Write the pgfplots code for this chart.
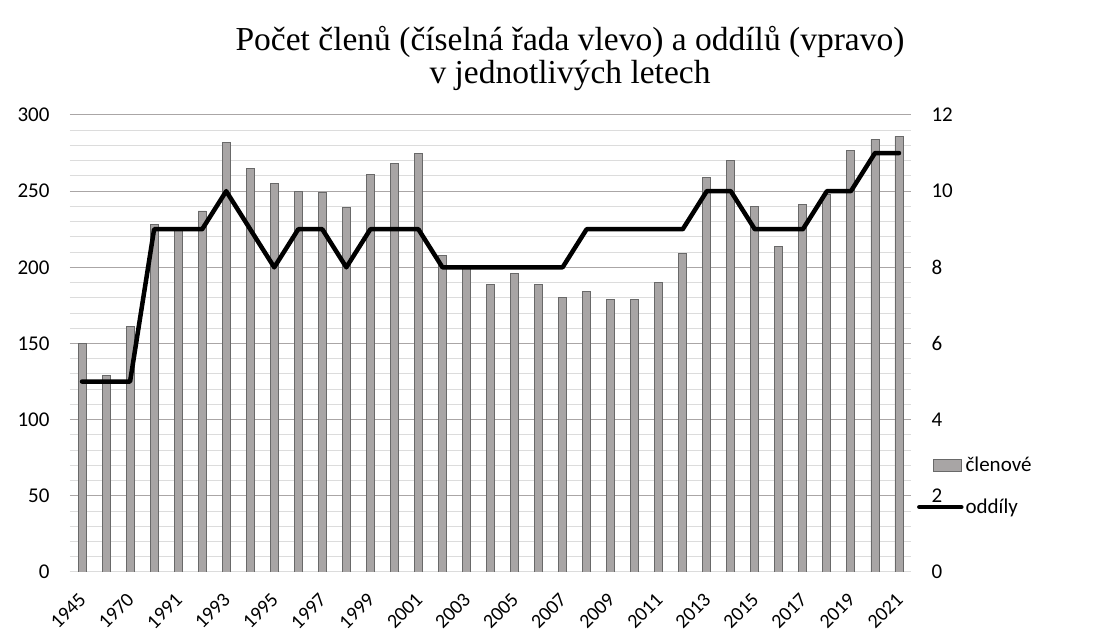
\documentclass[border=0pt]{standalone}
\usepackage{pgfplots}
\pgfplotsset{compat=1.18}
\usepackage{fontspec}
\setmainfont{Liberation Serif}
\newfontfamily\calib{Carlito}
\definecolor{barfill}{RGB}{168,165,165}
\definecolor{baredge}{RGB}{105,105,105}
\definecolor{majgrid}{RGB}{170,166,166}
\definecolor{mingrid}{RGB}{220,220,220}
\begin{document}
\begin{tikzpicture}[x=1pt,y=1pt]
\path[use as bounding box] (0,0) rectangle (1120,637);
\node[font=\fontsize{33.5}{33}\selectfont, align=center] at (570,579) {Počet členů (číselná řada vlevo) a oddílů (vpravo)\\v jednotlivých letech};
\begin{axis}[
 at={(70pt,65pt)}, anchor=south west, scale only axis, width=841pt, height=457pt,
 xmin=-0.5, xmax=34.5, ymin=0, ymax=300,
 ytick={0,50,...,300}, minor ytick={0,10,...,300},
 ymajorgrids, yminorgrids,
 major grid style={majgrid, line width=1pt},
 minor grid style={mingrid, line width=1pt},
 axis y line*=left, axis x line*=bottom,
 y axis line style={draw=none}, x axis line style={mingrid, line width=1pt},
 tick style={draw=none}, minor tick length=0pt,
 xtick={0,2,...,34},
 xticklabels={1945,1970,1991,1993,1995,1997,1999,2001,2003,2005,2007,2009,2011,2013,2015,2017,2019,2021},
 xticklabel style={xshift=3pt, yshift=-18pt, rotate=45, anchor=east, font=\calib\fontsize{20}{24}\selectfont},
 yticklabel style={xshift=-17pt, font=\calib\fontsize{21}{25}\selectfont},
 /pgf/number format/assume math mode=true,
 ybar, bar width=8pt,
]
\addplot[fill=barfill, draw=baredge, line width=0.9pt] table {
x y
0 150
1 129
2 161
3 228
4 226
5 237
6 282
7 265
8 255
9 250
10 249
11 239
12 261
13 268
14 275
15 208
16 201
17 189
18 196
19 189
20 180
21 184
22 179
23 179
24 190
25 209
26 259
27 270
28 240
29 214
30 241
31 248
32 277
33 284
34 286
};
\end{axis}
\begin{axis}[
 at={(70pt,65pt)}, anchor=south west, scale only axis, width=841pt, height=457pt,
 xmin=-0.5, xmax=34.5, ymin=0, ymax=12,
 ytick={0,2,...,12},
 axis y line*=right, axis x line=none,
 y axis line style={draw=none}, tick style={draw=none},
 yticklabel style={xshift=17pt},
 ticklabel style={font=\calib\fontsize{21}{25}\selectfont},
 /pgf/number format/assume math mode=true,
 legend style={at={(1.007,0.188)}, anchor=west, draw=none, fill=none,
   font=\calib\fontsize{21}{25}\selectfont, row sep=22pt, inner sep=0pt},
 legend cell align=left,
]
\addlegendimage{legend image code/.code={\draw[fill=barfill, draw=baredge, line width=0.9pt] (14pt,-6pt) rectangle (42pt,6pt);}}
\addlegendentry{členové}
\addplot[black, line width=4.5pt, line join=round, line cap=round,
  legend image code/.code={\draw[black, line width=4.5pt] (0pt,0pt) -- (42pt,0pt);}] table {
x y
0 5
1 5
2 5
3 9
4 9
5 9
6 10
7 9
8 8
9 9
10 9
11 8
12 9
13 9
14 9
15 8
16 8
17 8
18 8
19 8
20 8
21 9
22 9
23 9
24 9
25 9
26 10
27 10
28 9
29 9
30 9
31 10
32 10
33 11
34 11
};
\addlegendentry{oddíly}
\end{axis}
\end{tikzpicture}
\end{document}
